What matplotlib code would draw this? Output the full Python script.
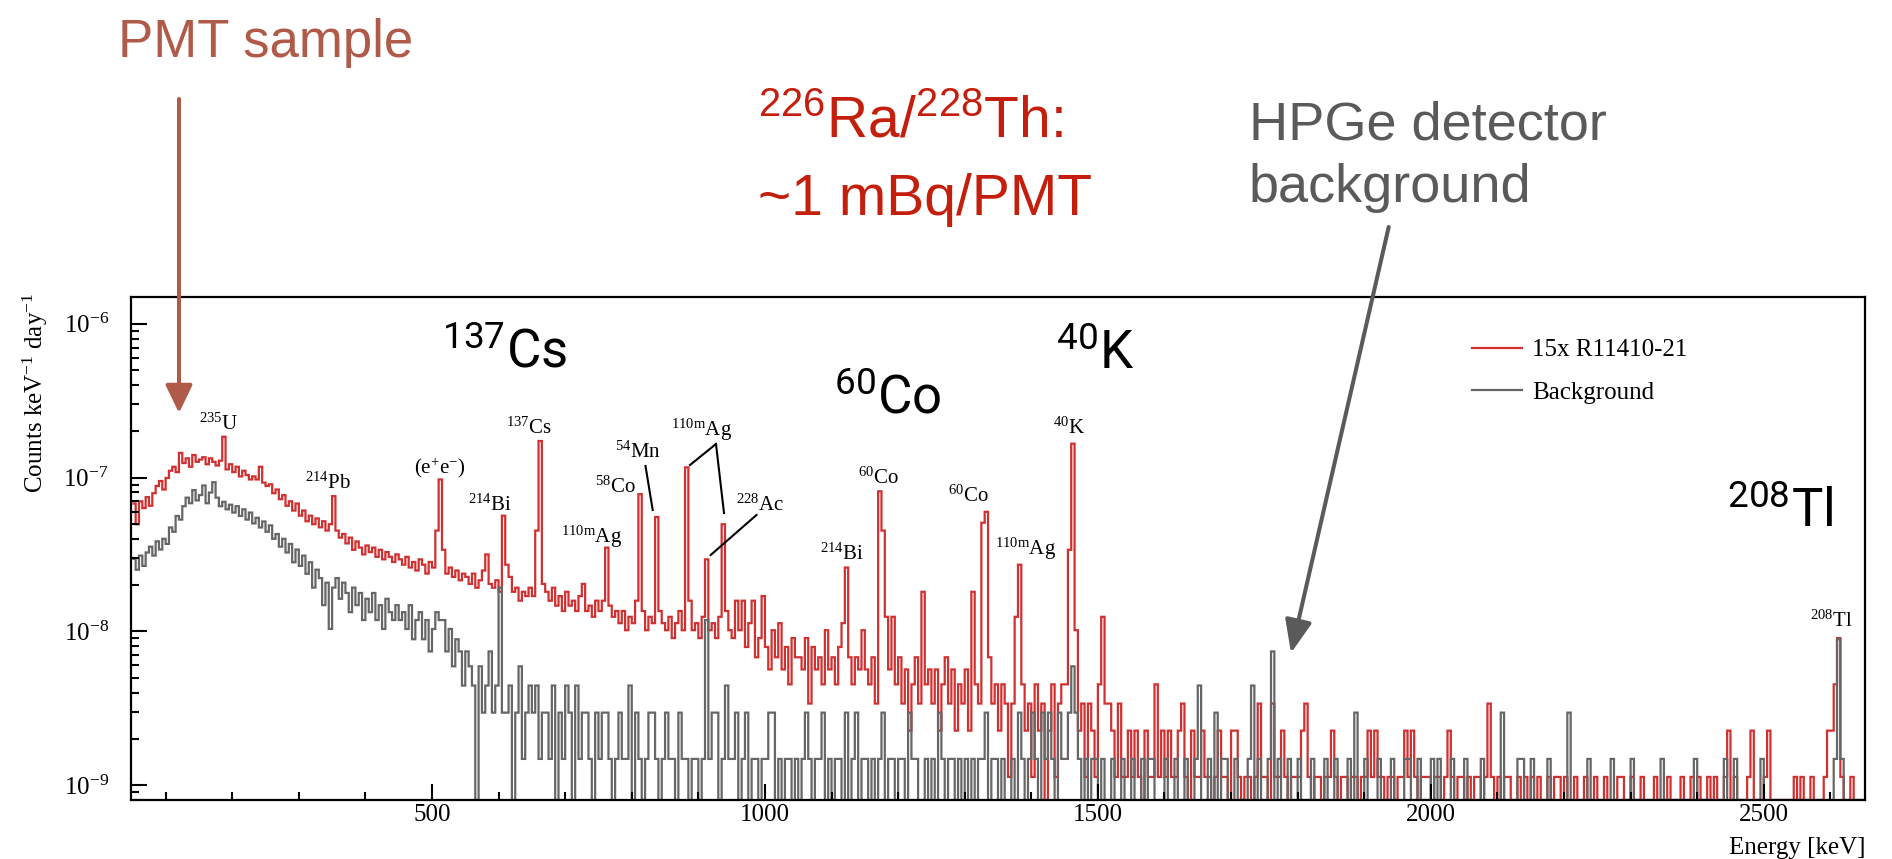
import numpy as np
import matplotlib
matplotlib.use("Agg")
import matplotlib.pyplot as plt
from matplotlib.patches import FancyArrowPatch
from matplotlib.lines import Line2D
from matplotlib.ticker import LogLocator, MultipleLocator, NullFormatter

plt.rcParams.update({
    "font.family": ["Liberation Serif", "DejaVu Serif"],
    "mathtext.fontset": "custom",
    "mathtext.rm": "Liberation Serif",
    "mathtext.it": "Liberation Serif:italic",
    "mathtext.bf": "Liberation Sans",
    "mathtext.sf": "Roboto",
})

# ---------------- data (5 keV bins starting at 50 keV) ----------------
bin_start = 50
bin_width = 5
red_unit = 1.13e-9     # counts keV^-1 day^-1 per recorded count (15x R11410-21)
gray_unit = 1.48e-9    # counts keV^-1 day^-1 per recorded count (Background)

red_counts = [
    60, 44, 62, 56, 66, 58, 70, 78, 84, 74, 88, 98, 104, 96, 128, 110, 118, 104, 124, 112,
    116, 120, 108, 118, 112, 106, 114, 163, 100, 108, 96, 104, 90, 98, 92, 86, 90, 86, 104, 82,
    78, 80, 70, 74, 64, 68, 58, 62, 54, 60, 50, 54, 46, 50, 44, 48, 42, 46, 40, 44,
    67, 40, 36, 38, 33, 36, 30, 34, 31, 28, 32, 29, 31, 27, 30, 26, 29, 27, 25, 28,
    26, 24, 27, 23, 25, 22, 26, 24, 21, 25, 23, 40, 86, 30, 21, 23, 20, 22, 19, 21,
    20, 18, 21, 17, 19, 22, 28, 18, 17, 19, 16, 50, 24, 20, 16, 17, 14, 16, 15, 17,
    15, 40, 153, 18, 16, 14, 17, 13, 15, 12, 16, 13, 14, 12, 15, 18, 12, 13, 11, 14,
    12, 14, 31, 13, 11, 12, 10, 12, 9, 11, 10, 14, 69, 12, 9, 11, 10, 49, 12, 10,
    9, 11, 8, 10, 12, 9, 103, 14, 9, 10, 8, 11, 26, 9, 10, 8, 11, 44, 12, 9,
    8, 14, 9, 14, 7, 10, 14, 6, 8, 15, 7, 5, 9, 6, 10, 5, 7, 4, 8, 6,
    6, 5, 8, 3, 7, 5, 6, 4, 9, 5, 6, 4, 7, 10, 23, 6, 4, 6, 5, 9,
    5, 4, 6, 3, 72, 40, 11, 5, 11, 4, 6, 3, 5, 2, 4, 6, 3, 16, 4, 5,
    3, 5, 2, 4, 6, 3, 5, 2, 4, 3, 5, 2, 16, 4, 3, 45, 53, 6, 3, 4,
    2, 4, 3, 1, 3, 11, 24, 4, 2, 3, 1, 4, 2, 3, 0, 2, 4, 1, 3, 4,
    4, 30, 147, 9, 2, 3, 1, 3, 2, 1, 4, 11, 3, 3, 2, 1, 3, 1, 1, 2,
    1, 2, 1, 0, 2, 1, 1, 4, 1, 2, 1, 2, 1, 1, 2, 3, 1, 0, 2, 1,
    1, 2, 1, 1, 0, 1, 2, 1, 1, 0, 2, 2, 1, 0, 1, 1, 0, 1, 3, 1,
    1, 0, 3, 1, 1, 2, 1, 0, 1, 1, 1, 2, 3, 1, 0, 1, 1, 0, 1, 1,
    2, 1, 0, 1, 1, 0, 1, 1, 0, 1, 1, 2, 1, 2, 1, 1, 0, 1, 1, 0,
    1, 1, 2, 1, 2, 1, 0, 1, 1, 1, 0, 1, 1, 0, 1, 2, 1, 0, 1, 1,
    0, 1, 0, 1, 1, 0, 1, 3, 1, 0, 1, 0, 1, 1, 0, 0, 1, 0, 1, 0,
    1, 0, 1, 0, 0, 1, 0, 1, 1, 0, 1, 0, 0, 1, 0, 0, 1, 0, 0, 1,
    0, 0, 1, 0, 0, 0, 1, 1, 0, 0, 1, 0, 0, 1, 0, 0, 0, 1, 0, 0,
    0, 1, 0, 0, 0, 1, 0, 0, 1, 0, 1, 0, 0, 1, 0, 1, 0, 0, 1, 2,
    0, 1, 0, 0, 0, 1, 2, 0, 0, 0, 1, 2, 0, 0, 0, 0, 0, 0, 0, 1,
    0, 1, 0, 0, 1, 0, 0, 0, 1, 2, 2, 4, 8, 1, 0, 0, 1, 0, 0, 0,
]

gray_counts = [
    20, 17, 21, 18, 22, 24, 21, 26, 23, 27, 25, 32, 30, 38, 36, 44, 50, 46, 56, 48,
    52, 60, 46, 54, 63, 50, 44, 47, 42, 45, 40, 44, 38, 42, 36, 40, 34, 37, 32, 35,
    30, 33, 27, 29, 24, 27, 22, 25, 19, 23, 18, 21, 16, 19, 13, 17, 15, 10, 14, 7,
    13, 15, 11, 14, 12, 9, 13, 10, 12, 8, 11, 9, 12, 8, 10, 7, 11, 9, 8, 10,
    8, 9, 7, 10, 6, 8, 9, 6, 8, 5, 7, 9, 8, 8, 5, 7, 4, 6, 5, 3,
    5, 4, 3, 0, 4, 2, 3, 5, 2, 3, 13, 2, 2, 3, 0, 2, 4, 1, 2, 3,
    2, 3, 1, 2, 2, 1, 3, 0, 2, 1, 3, 2, 0, 3, 1, 2, 2, 1, 0, 2,
    1, 2, 2, 1, 0, 1, 2, 1, 1, 3, 0, 2, 1, 0, 1, 2, 2, 1, 0, 1,
    2, 1, 1, 0, 2, 1, 1, 0, 1, 1, 0, 1, 8, 1, 2, 2, 0, 1, 3, 1,
    1, 2, 0, 1, 2, 0, 1, 1, 0, 1, 1, 2, 2, 0, 1, 0, 1, 1, 0, 1,
    0, 1, 2, 1, 0, 1, 1, 2, 0, 1, 0, 1, 1, 0, 2, 0, 1, 2, 0, 1,
    1, 0, 1, 0, 1, 2, 0, 1, 1, 0, 1, 1, 0, 2, 1, 1, 0, 0, 1, 0,
    1, 0, 2, 1, 0, 1, 1, 0, 1, 0, 1, 0, 1, 0, 1, 1, 2, 0, 1, 1,
    0, 1, 0, 0, 1, 0, 2, 1, 0, 1, 2, 1, 0, 2, 1, 2, 1, 0, 2, 1,
    1, 2, 4, 2, 1, 0, 1, 0, 1, 1, 0, 1, 0, 0, 1, 0, 0, 1, 0, 0,
    1, 0, 0, 1, 0, 1, 1, 0, 0, 0, 1, 0, 0, 1, 0, 0, 1, 0, 0, 1,
    3, 0, 0, 1, 0, 2, 0, 1, 1, 0, 0, 1, 0, 0, 0, 1, 3, 0, 1, 0,
    0, 1, 5, 0, 1, 0, 0, 1, 0, 0, 1, 0, 0, 0, 1, 0, 0, 0, 1, 0,
    0, 1, 0, 0, 0, 1, 0, 2, 0, 0, 1, 0, 0, 0, 1, 0, 0, 0, 1, 0,
    0, 0, 1, 1, 0, 0, 1, 0, 0, 0, 1, 0, 1, 0, 0, 0, 1, 0, 0, 0,
    1, 0, 0, 0, 0, 1, 0, 0, 0, 0, 0, 2, 0, 0, 0, 0, 1, 1, 0, 0,
    1, 0, 0, 0, 0, 1, 0, 0, 0, 0, 0, 2, 0, 0, 0, 0, 0, 1, 0, 0,
    0, 0, 0, 0, 1, 0, 0, 0, 0, 0, 1, 0, 0, 0, 0, 0, 0, 0, 0, 1,
    0, 0, 0, 0, 0, 0, 0, 0, 0, 1, 0, 0, 0, 0, 0, 0, 0, 0, 1, 0,
    0, 1, 0, 0, 0, 0, 0, 0, 0, 1, 0, 0, 0, 0, 0, 0, 0, 0, 0, 0,
    0, 0, 0, 0, 0, 0, 0, 0, 0, 0, 0, 1, 6, 1, 0, 0, 0, 0, 0, 0,
]

x_ticks = [500, 1000, 1500, 2000, 2500]
series_labels = ["15x R11410-21", "Background"]

# peak labels: (mathtext, left px, baseline px)
peak_labels = [
    (r"$\mathrm{^{235}U}$", 199, 430),
    (r"$\mathrm{^{214}Pb}$", 305, 489),
    (r"$\mathrm{(e^{+}e^{-})}$", 414, 473),
    (r"$\mathrm{^{214}Bi}$", 468, 511),
    (r"$\mathrm{^{137}Cs}$", 506, 434),
    (r"$\mathrm{^{110m}Ag}$", 561, 543),
    (r"$\mathrm{^{58}Co}$", 595, 493),
    (r"$\mathrm{^{54}Mn}$", 615, 458),
    (r"$\mathrm{^{110m}Ag}$", 671, 436),
    (r"$\mathrm{^{228}Ac}$", 736, 511),
    (r"$\mathrm{^{214}Bi}$", 820, 560),
    (r"$\mathrm{^{60}Co}$", 858, 484),
    (r"$\mathrm{^{60}Co}$", 948, 502),
    (r"$\mathrm{^{110m}Ag}$", 995, 555),
    (r"$\mathrm{^{40}K}$", 1053, 434),
    (r"$\mathrm{^{208}Tl}$", 1810, 627),
]
big_labels = [
    (r"$\mathsf{^{137}Cs}$", 442, 368),
    (r"$\mathsf{^{60}Co}$", 834, 413),
    (r"$\mathsf{^{40}K}$", 1056, 369),
    (r"$\mathsf{^{208}Tl}$", 1727, 527),
]
leader_lines = [
    ((645.5, 466), (652.7, 510)),
    ((716, 444), (690, 465)),
    ((716, 444), (724, 513)),
    ((756.5, 515), (710.7, 555)),
]

# ---------------- figure ----------------
W, H = 1892, 859
fig = plt.figure(figsize=(W / 100, H / 100), dpi=100)

def fx(x):
    return x / W

def fy(y):
    return 1 - y / H

ax = fig.add_axes([fx(131), fy(800), (1865 - 131) / W, (800 - 296.7) / H])

YMIN, YMAX = 8.0e-10, 1.5e-6
edges = bin_start + bin_width * np.arange(len(red_counts) + 1)
red_vals = np.array(red_counts, dtype=float) * red_unit
gray_vals = np.array(gray_counts, dtype=float) * gray_unit
red_vals[red_vals <= 0] = YMIN
gray_vals[gray_vals <= 0] = YMIN

RED = "#d03030"
GRAY = "#666666"
ax.stairs(red_vals, edges, baseline=None, color=RED, lw=1.6)
ax.stairs(gray_vals, edges, baseline=None, color=GRAY, lw=1.6)

ax.set_yscale("log")
ax.set_xlim(48, 2652)
ax.set_ylim(YMIN, YMAX)
ax.xaxis.set_major_locator(plt.FixedLocator(x_ticks))
ax.xaxis.set_minor_locator(MultipleLocator(100))
ax.yaxis.set_major_locator(LogLocator(base=10))
ax.yaxis.set_minor_locator(LogLocator(base=10, subs=np.arange(2, 10)))
ax.yaxis.set_minor_formatter(NullFormatter())
ax.tick_params(which="both", direction="in", top=False, right=False, width=1.5,
               labelsize=18)
ax.tick_params(which="major", length=11.5)
ax.tick_params(which="minor", length=5.8)
ax.tick_params(axis="y", pad=16)
ax.tick_params(axis="x", pad=3)
for s in ax.spines.values():
    s.set_linewidth(1.6)

ax.set_xlabel("Energy [keV]", fontsize=18, loc="right")
ax.xaxis.set_label_coords(1.0, (800 - 837) / (800 - 296.7))
ax.set_ylabel(r"Counts keV$^{\mathrm{-1}}$ day$^{\mathrm{-1}}$", fontsize=18)
ax.yaxis.set_label_coords((50 - 131) / 1734, (800 - 393) / (800 - 296.7))

handles = [Line2D([], [], color=RED, lw=1.6), Line2D([], [], color=GRAY, lw=1.6)]
ax.legend(handles, series_labels, loc="upper left",
          bbox_to_anchor=(fx(1472), fy(339)), bbox_transform=fig.transFigure,
          frameon=False, fontsize=18, handlelength=2.0, handletextpad=0.4,
          labelspacing=0.8, borderpad=0, borderaxespad=0)

for txt, x, y in peak_labels:
    fig.text(fx(x), fy(y), txt, fontsize=15, ha="left", va="baseline")
for txt, x, y in big_labels:
    fig.text(fx(x), fy(y), txt, fontsize=38, ha="left", va="baseline",
             color="black")
for (x0, y0), (x1, y1) in leader_lines:
    fig.add_artist(Line2D([fx(x0), fx(x1)], [fy(y0), fy(y1)], color="black",
                          lw=1.5, transform=fig.transFigure))

# ---------------- annotations outside the frame ----------------
BROWN = "#b05a4a"
REDTXT = "#c41e0c"
GRAYTXT = "#5a5a5a"
fig.text(fx(118), fy(56.7), "PMT sample", fontsize=38, color=BROWN,
         family="Liberation Sans", ha="left", va="baseline")
fig.text(fx(758), fy(138), r"$\mathbf{^{226}Ra/^{228}Th}$:", fontsize=41,
         color=REDTXT, family="Liberation Sans", ha="left", va="baseline")
fig.text(fx(758), fy(215), "~1 mBq/PMT", fontsize=41, color=REDTXT,
         family="Liberation Sans", ha="left", va="baseline")
fig.text(fx(1249), fy(140), "HPGe detector", fontsize=39, color=GRAYTXT,
         family="Liberation Sans", ha="left", va="baseline")
fig.text(fx(1249), fy(202), "background", fontsize=39, color=GRAYTXT,
         family="Liberation Sans", ha="left", va="baseline")

arr1 = FancyArrowPatch((fx(179), fy(99)), (fx(179), fy(413)),
                       arrowstyle="-|>,head_length=17,head_width=8.2",
                       mutation_scale=1, lw=2.9, color=BROWN,
                       transform=fig.transFigure, shrinkA=0, shrinkB=0)
fig.add_artist(arr1)
arr2 = FancyArrowPatch((fx(1388.7), fy(227)), (fx(1291), fy(653)),
                       arrowstyle="-|>,head_length=20,head_width=8.2",
                       mutation_scale=1, lw=2.9, color=GRAYTXT,
                       transform=fig.transFigure, shrinkA=0, shrinkB=0)
fig.add_artist(arr2)

fig.savefig("out.png", dpi=100)
